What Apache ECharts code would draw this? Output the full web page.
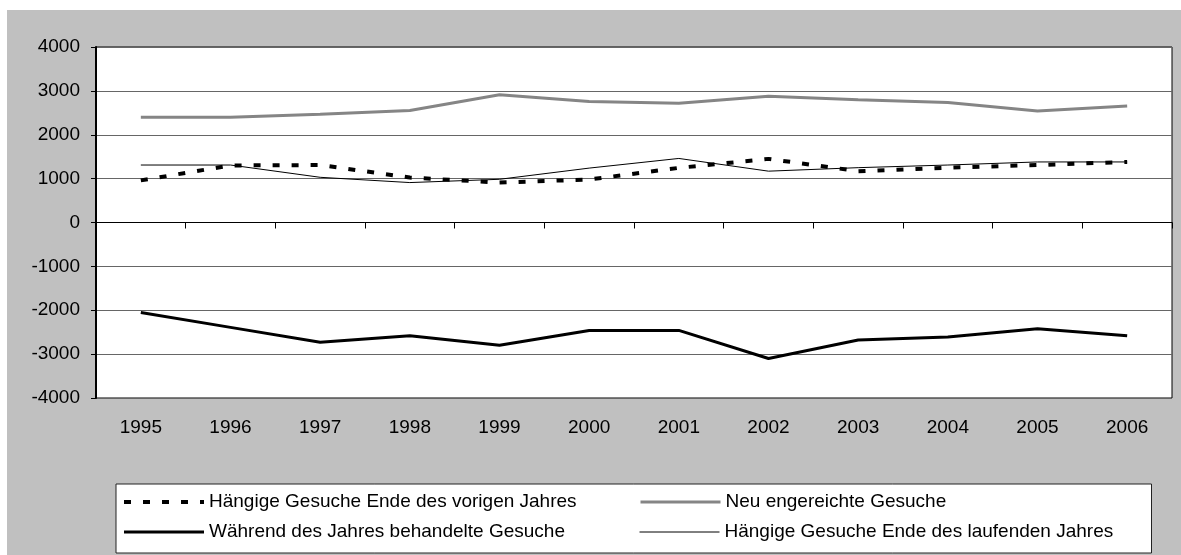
<!DOCTYPE html>
<html>
<head>
<meta charset="utf-8">
<script src="https://cdn.jsdelivr.net/npm/echarts@6/dist/echarts.min.js"></script>
<style>
  html, body { margin: 0; padding: 0; background: #fff; }
  #chart { width: 1181px; height: 555px; }
</style>
</head>
<body>
<div id="chart"></div>
<script>
const FONT_FAMILY = "'Liberation Sans', Arial, sans-serif"

const years = ['1995', '1996', '1997', '1998', '1999', '2000', '2001', '2002', '2003', '2004', '2005', '2006']
const pendingPrev = [960, 1300, 1310, 1025, 910, 980, 1245, 1450, 1170, 1250, 1310, 1380]
const newRequests = [2400, 2400, 2470, 2555, 2910, 2760, 2720, 2880, 2800, 2735, 2540, 2655]
const handled = [-2050, -2390, -2730, -2580, -2800, -2460, -2460, -3100, -2680, -2610, -2420, -2580]
const pendingCurrent = [1310, 1310, 1030, 910, 985, 1240, 1460, 1170, 1250, 1310, 1380, 1380]

const chart = echarts.init(document.getElementById('chart'))

chart.setOption({
  backgroundColor: '#fff',
  animation: false,
  textStyle: { fontFamily: FONT_FAMILY },
  graphic: [{
    type: 'rect',
    z: -100,
    silent: true,
    shape: { x: 7, y: 10, width: 1174, height: 545 },
    style: { fill: '#c0c0c0' },
  }],
  grid: {
    left: 96, top: 47, right: 9, bottom: 157,
    show: true,
    backgroundColor: '#fff',
    borderColor: '#000',
    borderWidth: 1,
  },
  legend: {
    left: 116, top: 484,
    width: 1032,
    padding: [8, 6, 11, 6],
    itemGap: 10,
    itemWidth: 80,
    itemHeight: 20,
    backgroundColor: '#fff',
    borderColor: '#222',
    borderWidth: 1,
    itemStyle: { opacity: 0 },
    lineStyle: { width: 'inherit' },
    textStyle: { fontFamily: FONT_FAMILY, fontSize: 19, color: '#000', width: 420, lineHeight: 20 },
    data: [
      'Hängige Gesuche Ende des vorigen Jahres',
      'Neu engereichte Gesuche',
      'Während des Jahres behandelte Gesuche',
      'Hängige Gesuche Ende des laufenden Jahres',
    ],
  },
  xAxis: [{
    type: 'category',
    data: years,
    position: 'bottom',
    boundaryGap: true,
    axisLine: { show: false, onZero: false },
    axisTick: { show: false },
    axisLabel: { fontFamily: FONT_FAMILY, fontSize: 19, color: '#000', margin: 20 },
  }, {
    type: 'category',
    data: years,
    position: 'top',
    boundaryGap: true,
    axisLine: { show: true, onZero: true, lineStyle: { color: '#000', width: 1 } },
    axisTick: { show: true, inside: true, length: 6, lineStyle: { color: '#000' } },
    axisLabel: { show: false },
  }],
  yAxis: {
    type: 'value',
    min: -4000, max: 4000, interval: 1000,
    axisLine: { show: true, onZero: false, lineStyle: { color: '#000', width: 2 } },
    axisTick: { show: true, length: 5, lineStyle: { color: '#000' } },
    axisLabel: {
      fontFamily: FONT_FAMILY, fontSize: 19, color: '#000', margin: 16,
      formatter: v => String(v),
    },
    splitLine: { show: true, lineStyle: { color: '#666', width: 1 } },
  },
  series: [{
    name: 'Hängige Gesuche Ende des vorigen Jahres',
    type: 'line',
    data: pendingPrev,
    symbol: 'none',
    lineStyle: { color: '#000', width: 4, type: [7, 12], cap: 'butt' },
    itemStyle: { color: '#000' },
    z: 5,
  }, {
    name: 'Neu engereichte Gesuche',
    type: 'line',
    data: newRequests,
    symbol: 'none',
    lineStyle: { color: '#858585', width: 3 },
    itemStyle: { color: '#858585' },
  }, {
    name: 'Während des Jahres behandelte Gesuche',
    type: 'line',
    data: handled,
    symbol: 'none',
    lineStyle: { color: '#000', width: 3 },
    itemStyle: { color: '#000' },
  }, {
    name: 'Hängige Gesuche Ende des laufenden Jahres',
    type: 'line',
    data: pendingCurrent,
    symbol: 'none',
    lineStyle: { color: '#000', width: 1 },
    itemStyle: { color: '#000' },
  }],
})
</script>
</body>
</html>
